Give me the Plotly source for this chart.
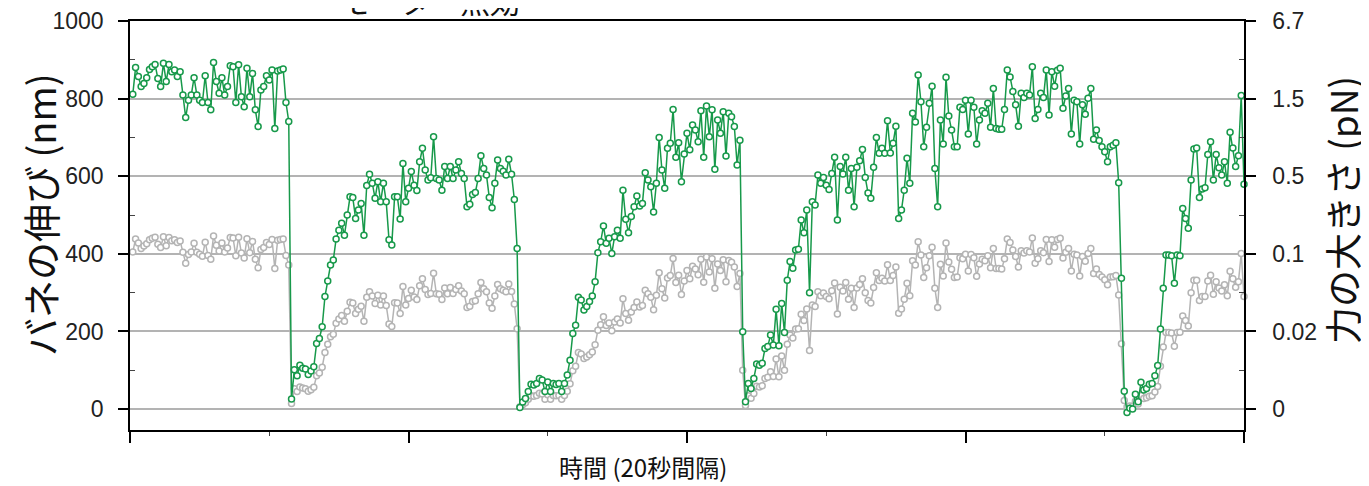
import plotly.graph_objects as go

# ---- data ----
# time index (one sample per step, 100 steps = one 20 s interval)
x_ticks = [0, 100, 200, 300, 400]
y_ticks = [0, 200, 400, 600, 800, 1000]
force_labels = ["0", "0.02", "0.1", "0.5", "1.5", "6.7"]

green = [
    811, 880, 857, 831, 839, 854, 875, 882, 888, 852, 831, 891, 844, 888, 869, 874, 857, 869, 809, 751,
    796, 809, 854, 809, 796, 790, 859, 790, 771, 893, 844, 814, 854, 809, 831, 885, 882, 790, 887, 805,
    779, 878, 805, 865, 771, 728, 822, 831, 859, 848, 874, 723, 871, 874, 876, 790, 741,
    26, 101, 86, 113, 105, 103, 89, 98, 109, 169, 182, 212, 290, 330, 371, 384, 438, 461, 479, 448, 500, 547,
    545, 491, 513, 530, 448, 576, 605, 582, 543, 586, 534, 582, 534, 436, 423, 547, 547, 490, 633, 534,
    569, 612, 577, 563, 637, 672, 616, 590, 596, 702, 594, 590, 564, 625, 594, 625, 594, 616, 637, 607,
    594, 521, 528, 553, 558, 594, 653, 620, 603, 545, 519, 582, 642, 620, 613, 603, 644, 605, 540, 414,
    4, 18, 27, 45, 64, 62, 66, 79, 75, 45, 70, 45, 66, 63, 66, 45, 66, 88, 126,
    195, 216, 288, 281, 255, 264, 277, 291, 328, 403, 431, 472, 427, 440, 401, 444, 461, 440, 564, 489,
    454, 496, 521, 549, 523, 530, 609, 590, 573, 508, 582, 700, 616, 569, 672, 685, 772, 649, 686, 586,
    657, 711, 668, 732, 719, 689, 769, 649, 781, 702, 771, 618, 745, 711, 766, 652, 762, 753, 728, 629, 693,
    199, 19,
    66, 53, 79, 116, 113, 118, 156, 161, 191, 165, 257, 163, 272, 197, 332, 380, 363, 410, 412, 487,
    454, 513, 300, 534, 526, 603, 582, 597, 577, 566, 607, 649, 487, 625, 606, 649, 564, 620, 521, 623,
    640, 669, 597, 557, 543, 623, 700, 659, 672, 659, 743, 660, 685, 729, 491, 513, 564, 646, 582, 762,
    740, 861, 792, 676, 726, 788, 832, 620, 521, 745, 683, 855, 755, 719, 676, 676, 778, 772, 796, 709,
    796, 778, 683, 745, 769, 762, 788, 726, 826, 723, 721, 721, 772, 874, 856, 818, 784, 729, 814, 803,
    814, 809, 882, 749, 772, 814, 803, 874, 758, 869, 832, 873, 878, 775, 807, 826, 709, 796, 792, 683,
    784, 760, 801, 826, 695, 719, 692, 676, 663, 637, 676, 680, 686, 583,
    337, 46, -9, 2, 0, 38, 19, 69, 49, 53, 64,
    66, 86, 112, 206, 311, 397, 397, 395, 324, 397, 395, 517, 491, 466, 590, 670, 673, 545, 567, 570,
    656, 689, 590, 656, 622, 603, 637, 582, 713, 673, 625, 653, 808, 579,
]

gray = [
    405, 438, 428, 414, 420, 426, 436, 440, 443, 425, 416, 444, 421, 442, 434, 436, 429, 433, 404, 376,
    398, 405, 427, 404, 399, 394, 430, 396, 386, 446, 422, 407, 428, 405, 415, 442, 441, 395, 443, 402,
    389, 439, 403, 432, 386, 364, 411, 416, 429, 424, 437, 362, 435, 437, 438, 396, 371,
    14, 52, 45, 57, 54, 52, 46, 50, 56, 86, 93, 108, 146, 167, 186, 193, 221, 232, 241, 226, 252, 275,
    273, 246, 257, 265, 226, 288, 302, 291, 272, 293, 268, 291, 267, 219, 213, 274, 273, 246, 316, 268,
    285, 306, 289, 282, 318, 336, 308, 295, 298, 350, 297, 296, 282, 312, 297, 313, 298, 308, 318, 304,
    297, 262, 265, 277, 279, 297, 326, 310, 302, 273, 260, 291, 321, 310, 306, 302, 322, 303, 271, 207,
    6, 11, 16, 25, 34, 33, 35, 41, 39, 25, 37, 25, 35, 34, 35, 25, 35, 46, 65,
    99, 110, 146, 142, 130, 134, 140, 147, 166, 203, 217, 238, 215, 222, 202, 224, 232, 222, 284, 246,
    229, 250, 262, 276, 263, 267, 306, 297, 288, 256, 293, 351, 310, 286, 338, 344, 388, 326, 345, 295,
    330, 357, 336, 368, 361, 346, 386, 327, 392, 353, 387, 311, 374, 357, 385, 328, 383, 378, 366, 316, 349,
    100, 9,
    34, 28, 40, 59, 57, 60, 79, 82, 96, 84, 129, 83, 137, 100, 167, 191, 183, 206, 207, 244,
    228, 258, 151, 268, 264, 302, 292, 299, 290, 284, 305, 325, 245, 314, 304, 326, 283, 311, 262, 312,
    321, 336, 300, 280, 273, 313, 351, 331, 337, 330, 372, 331, 344, 366, 247, 258, 283, 324, 292, 382,
    371, 431, 397, 339, 364, 395, 417, 311, 262, 373, 343, 428, 379, 360, 339, 340, 390, 387, 399, 356,
    398, 390, 342, 374, 386, 382, 395, 364, 414, 362, 362, 361, 387, 438, 429, 410, 393, 366, 408, 402,
    408, 405, 441, 376, 387, 408, 403, 437, 380, 436, 417, 437, 440, 389, 404, 414, 356, 399, 397, 343,
    393, 381, 401, 414, 349, 361, 347, 340, 333, 320, 340, 341, 344, 294,
    168, 22, 5, 8, 7, 20, 13, 35, 27, 29, 33,
    34, 44, 58, 110, 160, 197, 197, 196, 162, 197, 198, 240, 228, 214, 300, 332, 332, 280, 290, 290,
    330, 345, 296, 328, 312, 304, 320, 292, 355, 336, 314, 328, 401, 290,
]

t = list(range(1, len(green) + 1))

GREEN = "#17994a"
GRAY = "#b4b4b4"

fig = go.Figure()
fig.add_trace(go.Scatter(
    x=t, y=gray, mode="lines+markers", cliponaxis=False,
    line=dict(color=GRAY, width=1.5),
    marker=dict(symbol="circle", size=6, color="white", line=dict(color=GRAY, width=1.5)),
    showlegend=False, hoverinfo="skip"))
fig.add_trace(go.Scatter(
    x=t, y=green, mode="lines+markers", cliponaxis=False,
    line=dict(color=GREEN, width=1.5),
    marker=dict(symbol="circle", size=6, color="white", line=dict(color=GREEN, width=1.5)),
    showlegend=False, hoverinfo="skip"))
fig.add_trace(go.Scatter(x=[None], y=[None], yaxis="y2", showlegend=False, hoverinfo="skip"))

# page body has an 8px margin: shift the figure so the plot area lands at
# screen x 130..1244, y 21..430
OFF = 8
PL, PR, PT, PB = 130, 1244, 21, 430          # plot area in screen pixels
W, H = 1369 - OFF, 486 - OFF
L, T = PL - OFF, PT - OFF
R = W - (PR - OFF)
B = H - (PB - OFF)

def px_x(p):
    return (p - PL) / (PR - PL)

def px_y(p):
    return (PB - p) / (PB - PT)

tickfont = dict(family="Liberation Sans, Arial, sans-serif", size=23, color="#222222")
cjk = "Noto Sans CJK JP, sans-serif"

fig.update_layout(
    width=W, height=H,
    margin=dict(l=L, r=R, t=T, b=B, pad=0, autoexpand=False),
    paper_bgcolor="white", plot_bgcolor="white",
    xaxis=dict(
        range=[0, 400], tickvals=x_ticks, showticklabels=False,
        ticks="outside", ticklen=11, tickwidth=1.5, tickcolor="black",
        minor=dict(tickvals=[50, 150, 250, 350], ticks="outside", ticklen=4, tickwidth=1, tickcolor="#444"),
        showline=True, linecolor="black", linewidth=1.5, mirror=True,
        showgrid=False, zeroline=False,
    ),
    yaxis=dict(
        range=[-54, 1000], tickvals=y_ticks, ticktext=[str(v) for v in y_ticks],
        ticks="outside", ticklen=10, tickwidth=1.5, tickcolor="black",
        ticklabelstandoff=10, tickfont=tickfont,
        minor=dict(tickvals=[100, 300, 500, 700, 900], ticks="inside", ticklen=5, tickwidth=1, tickcolor="#444"),
        showline=True, linecolor="black", linewidth=1.5,
        showgrid=True, gridcolor="#b3b3b3", gridwidth=1.5, zeroline=False,
    ),
    yaxis2=dict(
        range=[-54, 1000], overlaying="y", side="right",
        tickvals=y_ticks, ticktext=force_labels,
        ticks="outside", ticklen=10, tickwidth=1.5, tickcolor="black",
        ticklabelstandoff=12, tickfont=tickfont,
        minor=dict(tickvals=[100, 300, 500, 700, 900], ticks="inside", ticklen=5, tickwidth=1, tickcolor="#444"),
        showline=True, linecolor="black", linewidth=1.5,
        showgrid=False, zeroline=False,
    ),
    annotations=[
        dict(text="バネの伸び (nm)", xref="paper", yref="paper", x=px_x(40), y=px_y(215),
             textangle=-90, showarrow=False, xanchor="center", yanchor="middle",
             font=dict(family=cjk, size=38, color="#111111")),
        dict(text="力の大きさ (pN)", xref="paper", yref="paper", x=px_x(1342), y=px_y(210),
             textangle=-90, showarrow=False, xanchor="center", yanchor="middle",
             font=dict(family=cjk, size=37, color="#111111")),
        dict(text="時間 (20秒間隔)", xref="paper", yref="paper", x=px_x(643), y=px_y(466),
             showarrow=False, xanchor="center", yanchor="middle",
             font=dict(family=cjk, size=24, color="#111111")),
        dict(text="モーター無効", xref="paper", yref="paper", x=px_x(430), y=px_y(0),
             showarrow=False, xanchor="center", yanchor="middle",
             font=dict(family=cjk, size=30, color="#111111")),
    ],
)

fig.write_html("out.html")
